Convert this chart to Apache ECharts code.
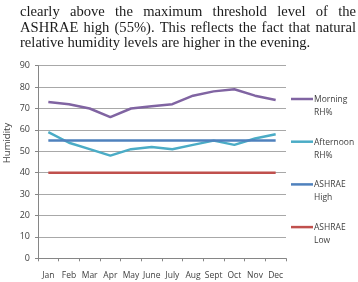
<!DOCTYPE html>
<html><head><meta charset="utf-8">
<script src="https://cdn.jsdelivr.net/npm/echarts@6/dist/echarts.min.js"></script>
<style>html,body{margin:0;padding:0;background:#fff}#c{width:358px;height:282px}</style>
</head><body><div id="c"></div>
<script>
const months = ['Jan','Feb','Mar','Apr','May','June','July','Aug','Sept','Oct','Nov','Dec'];
const morningRH = [73,72,70,66,70,71,72,76,78,79,76,74];
const afternoonRH = [59,54,51,48,51,52,51,53,55,53,56,58];
const ashraeHigh = [55,55,55,55,55,55,55,55,55,55,55,55];
const ashraeLow = [40,40,40,40,40,40,40,40,40,40,40,40];
const seriesNames = ['Morning\nRH%','Afternoon\nRH%','ASHRAE\nHigh','ASHRAE\nLow'];
const seriesColors = ['#8064A2','#4BACC6','#4F81BD','#C0504D'];
const paragraphLines = [
  'clearly above the maximum threshold level of the',
  'ASHRAE high (55%). This reflects the fact that natural',
  'relative humidity levels are higher in the evening.'
];

const chart = echarts.init(document.getElementById('c'), null, {renderer:'canvas'});
const serif = '"Liberation Serif","Times New Roman",serif';
const sans = '"Open Sans","Noto Sans",sans-serif';

// justified paragraph text
const ctx = document.createElement('canvas').getContext('2d');
const pFont = 14.6;
ctx.font = pFont + 'px ' + serif;
const graphics = [];
const pLeft = 20, pRight = 356;
paragraphLines.forEach((line, li) => {
  const y = 12.5 + li * 15.4;
  const words = line.split(' ');
  const justify = li < paragraphLines.length - 1;
  let x = pLeft;
  let gap = ctx.measureText(' ').width;
  if (justify) {
    const total = words.reduce((s, w) => s + ctx.measureText(w).width, 0);
    gap = (pRight - pLeft - total) / (words.length - 1);
  }
  words.forEach(w => {
    graphics.push({type:'text', x:x, y:y, style:{text:w, font: pFont + 'px ' + serif, fill:'#1a1a1a', textVerticalAlign:'middle'}});
    x += ctx.measureText(w).width + gap;
  });
});

// y axis title
graphics.push({type:'text', x:7, y:143, rotation:Math.PI/2,
  style:{text:'Humidity', font:'9.5px ' + sans, fill:'#404040', textAlign:'center', textVerticalAlign:'middle'}});

// legend
seriesNames.forEach((n, i) => {
  const y = 99 + i * 42.7;
  graphics.push({type:'line', shape:{x1:291, y1:y, x2:313, y2:y}, style:{stroke:seriesColors[i], lineWidth:2.5}});
  graphics.push({type:'text', x:314, y:y - 6, style:{text:n, font:'8.5px ' + sans, fill:'#404040', lineHeight:13}});
});

const dataSets = [morningRH, afternoonRH, ashraeHigh, ashraeLow];
chart.setOption({
  animation:false,
  grid:{left:38, right:72, top:65.7, bottom:23.7, containLabel:false},
  xAxis:{type:'category', data:months, boundaryGap:true,
    axisLine:{lineStyle:{color:'#868686', width:1}},
    axisTick:{show:true, alignWithLabel:false, length:3, lineStyle:{color:'#868686'}},
    axisLabel:{color:'#404040', fontSize:8.5, fontFamily:sans, margin:13, interval:0}},
  yAxis:{type:'value', min:0, max:90, interval:10,
    axisLine:{show:true, lineStyle:{color:'#868686'}},
    axisTick:{show:true, length:3, lineStyle:{color:'#868686'}},
    splitLine:{lineStyle:{color:'#a8a8a8', width:1}},
    axisLabel:{color:'#404040', fontSize:9, fontFamily:sans, margin:8}},
  series: dataSets.map((d, i) => ({
    name: seriesNames[i], type:'line', data:d, symbol:'none', smooth:false,
    lineStyle:{color:seriesColors[i], width:2.5}, itemStyle:{color:seriesColors[i]}
  })),
  graphic: graphics
});
</script></body></html>
